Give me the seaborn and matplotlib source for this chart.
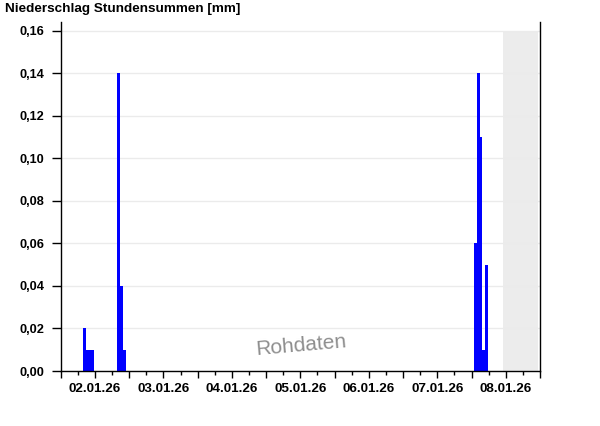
"""
Niederschlag Stundensummen -- hourly precipitation bars, 02.01.26 to 08.01.26.
Writes out.png (600x426).
"""
import numpy as np
import pandas as pd
import matplotlib
matplotlib.use("Agg")
import matplotlib.pyplot as plt
from matplotlib.ticker import FixedLocator, FuncFormatter
import seaborn as sns

# hours since 02.01.26 00:00 and the hourly sums in mm
hours = [8, 9, 10, 11, 20, 21, 22, 145, 146, 147, 148, 149]
precip_mm = [0.02, 0.01, 0.01, 0.01, 0.14, 0.04, 0.01, 0.06, 0.14, 0.11, 0.01, 0.05]

day_labels = ["02.01.26", "03.01.26", "04.01.26", "05.01.26",
              "06.01.26", "07.01.26", "08.01.26"]
y_ticks = [0.00, 0.02, 0.04, 0.06, 0.08, 0.10, 0.12, 0.14, 0.16]
future_start, future_end = 154.9, 167.4   # grey block at the right

df = pd.DataFrame({"hour": hours, "mm": precip_mm})

sns.set_theme(style="white")
plt.rcParams["font.family"] = ["Liberation Sans", "DejaVu Sans"]
plt.rcParams["text.color"] = "black"

fig = plt.figure(figsize=(6, 4.26), dpi=100)
ax = fig.add_axes([0.1012, 0.1291, 0.9 - 0.1012, 0.9484 - 0.1291])

# grey "no data yet" block, only up to the top gridline
ax.fill_between([future_start, future_end], 0, 0.16, color="#ececec", linewidth=0, zorder=0)
for yv in y_ticks:
    ax.axhline(yv, color="#ebebeb", linewidth=1, zorder=0.5)

# one bin per hour, bins shifted slightly like the original
sns.histplot(data=df, x="hour", weights="mm", binwidth=1, binrange=(-0.2, 168.8),
             color="#0000ff", alpha=1, linewidth=0, ax=ax, zorder=2)

ax.set_xlim(0, 168)
ax.set_ylim(0, 0.1641)
ax.set_xlabel("")
ax.set_ylabel("")

ax.yaxis.set_major_locator(FixedLocator(y_ticks))
ax.yaxis.set_major_formatter(FuncFormatter(lambda v, p: f"{v:.2f}".replace(".", ",")))

ax.xaxis.set_major_locator(FixedLocator(np.arange(0, 169, 12)))
ax.xaxis.set_minor_locator(FixedLocator(np.arange(6, 169, 12)))


def day_fmt(v, pos):
    h = int(round(v))
    if h % 24 == 12 and h // 24 < len(day_labels):
        return day_labels[h // 24]
    return ""


ax.xaxis.set_major_formatter(FuncFormatter(day_fmt))

ax.tick_params(axis="y", which="major", direction="out", length=6.3, width=1,
               pad=5.5, labelsize=9.2, left=True, colors="black")
ax.tick_params(axis="x", which="major", direction="out", length=5, width=1,
               pad=3.4, labelsize=9.7, bottom=True, colors="black")
ax.tick_params(axis="x", which="minor", direction="out", length=3.2, width=1,
               bottom=True, colors="black")
for lab in ax.get_xticklabels() + ax.get_yticklabels():
    lab.set_fontweight("bold")

for side in ["left", "bottom", "right"]:
    ax.spines[side].set_visible(True)
    ax.spines[side].set_color("black")
    ax.spines[side].set_linewidth(1)
ax.spines["top"].set_visible(False)

fig.text(5 / 600, 1 - 9 / 426, "Niederschlag Stundensummen [mm]", fontsize=9.7,
         fontweight="bold", color="black", ha="left", va="center")

# watermark
fig.text(0.502, 0.188, "Rohdaten", fontsize=15, color="#7a7a7a", rotation=5,
         ha="center", va="center", alpha=0.85)

fig.savefig("out.png", dpi=100)
